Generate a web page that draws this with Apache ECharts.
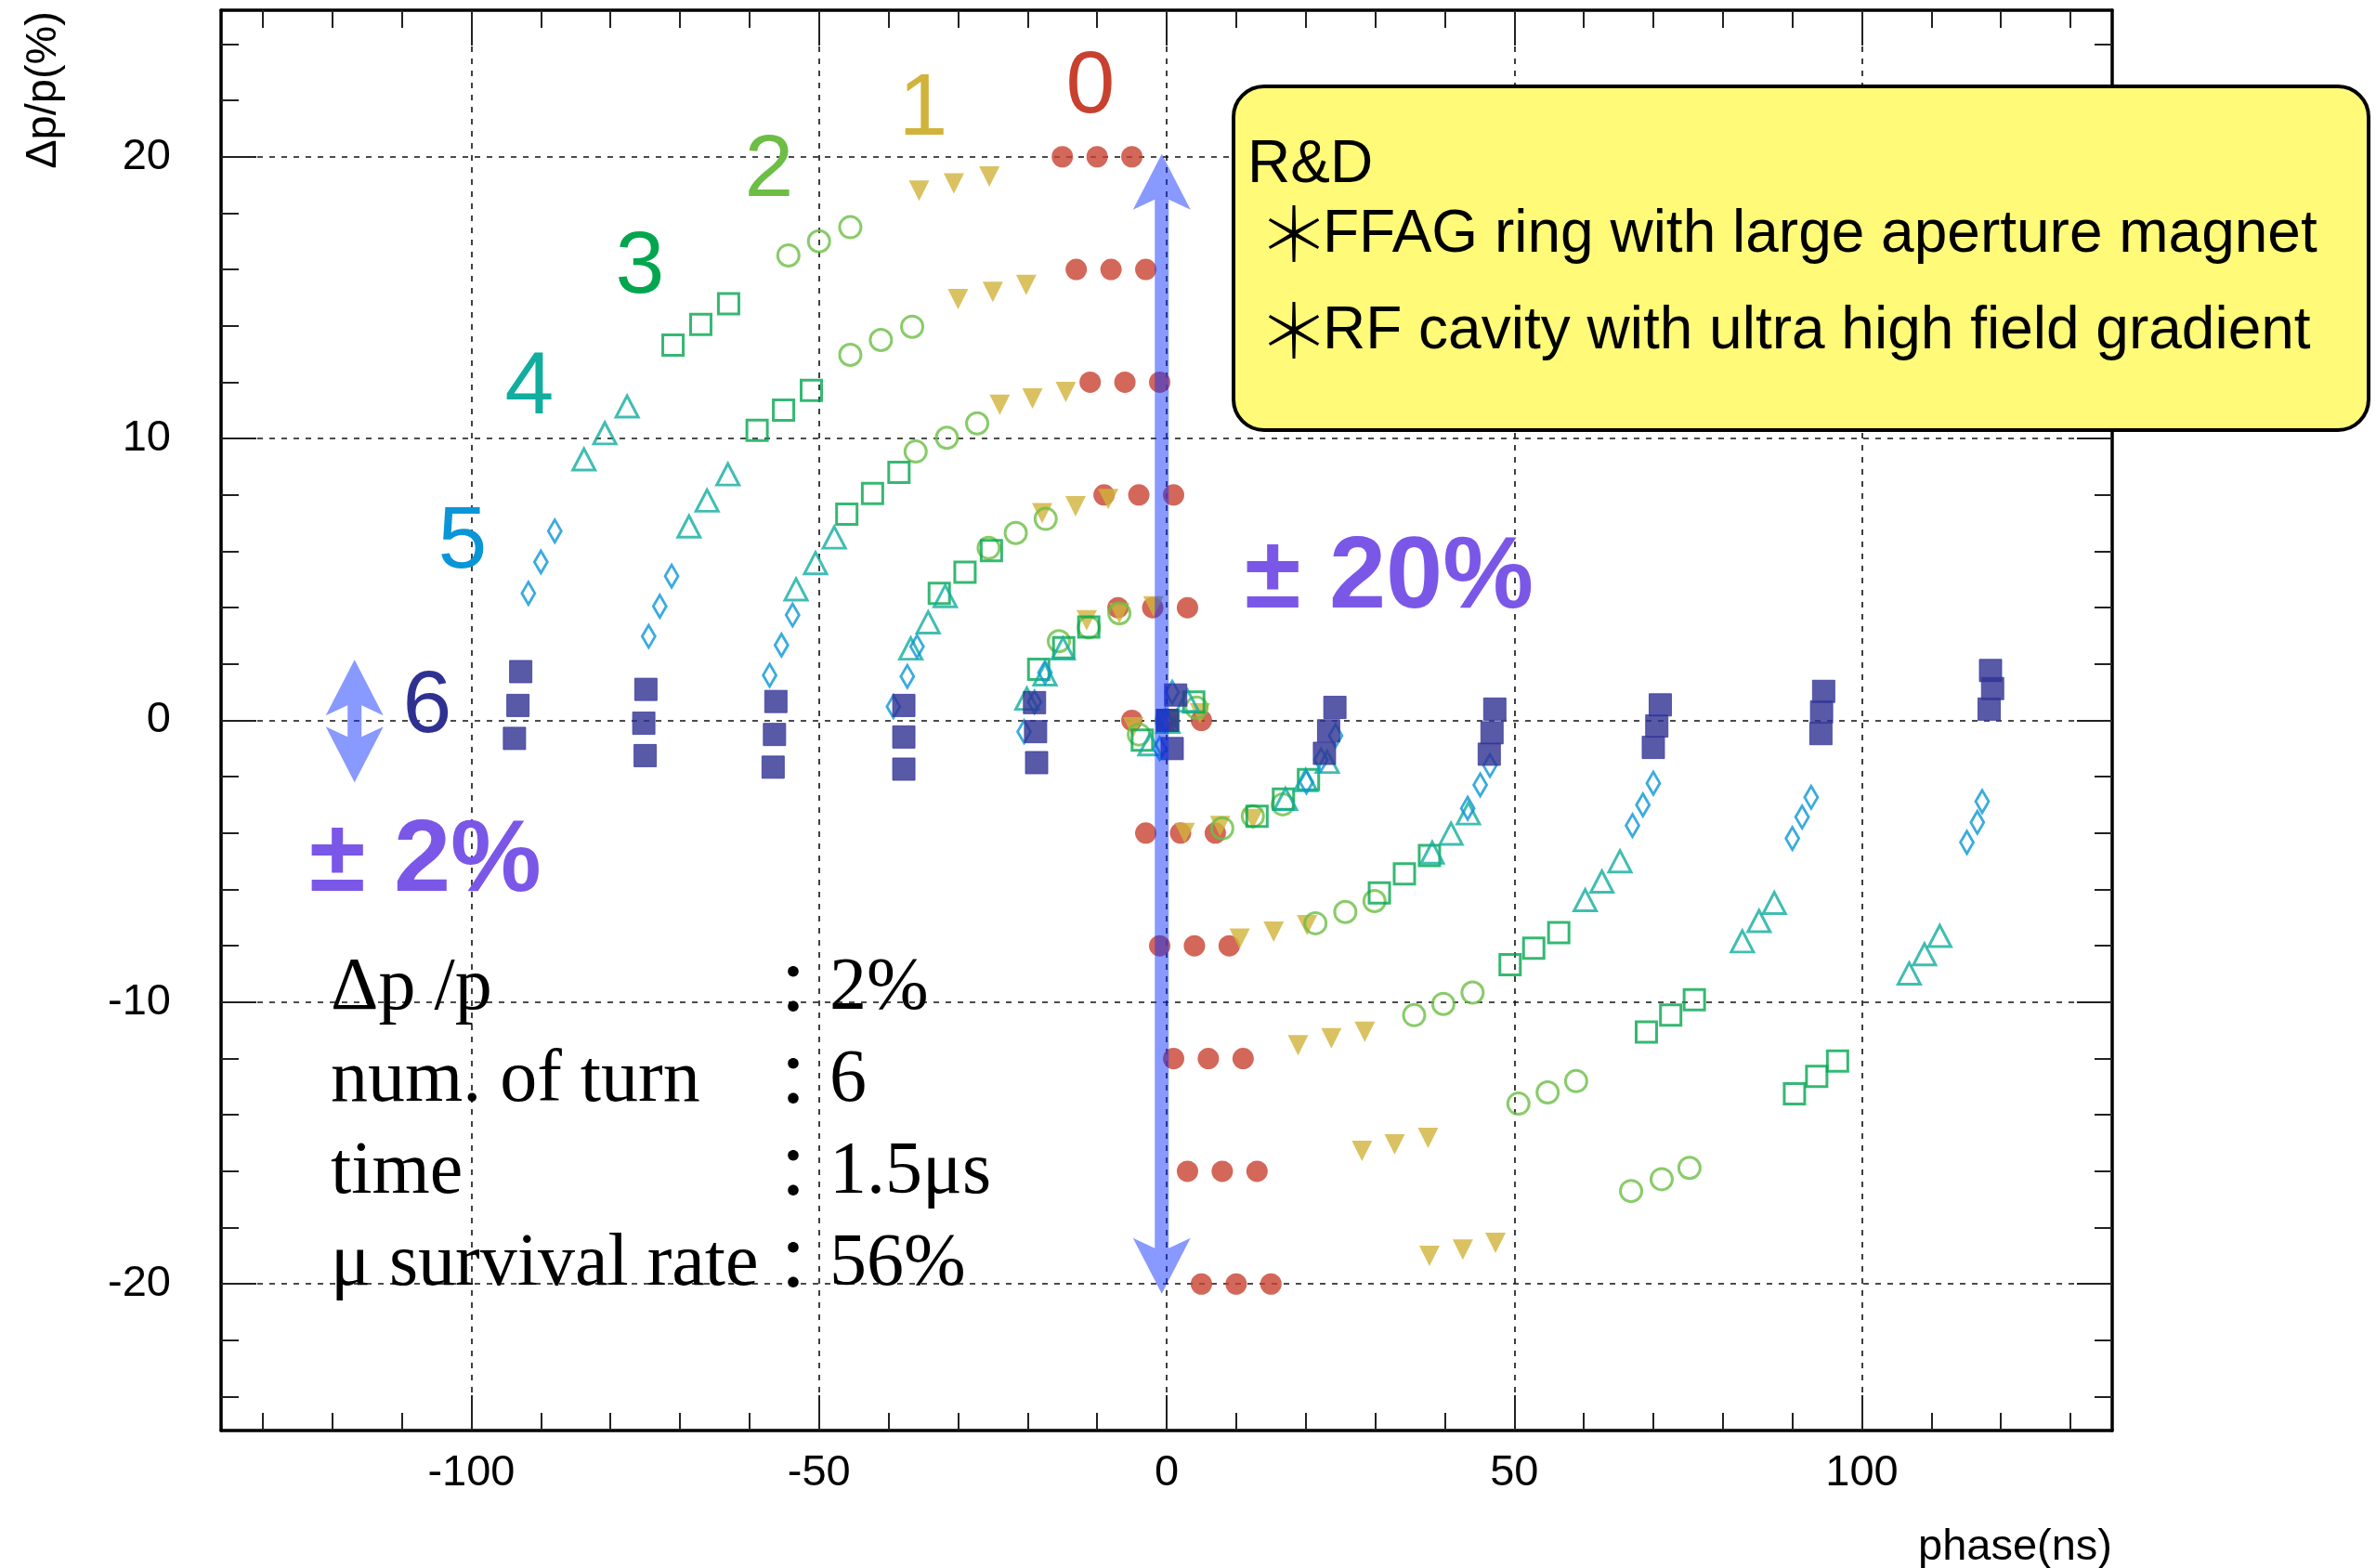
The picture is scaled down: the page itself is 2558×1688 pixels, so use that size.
<!DOCTYPE html>
<html>
<head>
<meta charset="utf-8">
<script src="https://cdn.jsdelivr.net/npm/echarts@6/dist/echarts.min.js"></script>
<style>
  html, body { margin: 0; padding: 0; background: #fff; }
  #chart { width: 2558px; height: 1688px; }
</style>
</head>
<body>
<div id="chart"></div>
<script>
// Longitudinal phase space (phase vs Δp/p) of a muon bunch, turn by turn.
// Each turn: 11 momentum rows x 3 phase points, as [phase(ns), Δp/p(%)].
const turn0 = [
  [-15, 20], [-10, 20], [-5, 20],
  [-13, 16], [-8, 16], [-3, 16],
  [-11, 12], [-6, 12], [-1, 12],
  [-9, 8], [-4, 8], [1, 8],
  [-7, 4], [-2, 4], [3, 4],
  [-5, 0], [0, 0], [5, 0],
  [-3, -4], [2, -4], [7, -4],
  [-1, -8], [4, -8], [9, -8],
  [1, -12], [6, -12], [11, -12],
  [3, -16], [8, -16], [13, -16],
  [5, -20], [10, -20], [15, -20]
];
const turn1 = [
  [-35.6, 18.8], [-30.6, 19.05], [-25.5, 19.3],
  [-30.0, 14.95], [-25.0, 15.2], [-20.2, 15.45],
  [-24.0, 11.2], [-19.3, 11.42], [-14.5, 11.65],
  [-17.9, 7.35], [-13.1, 7.6], [-8.4, 7.85],
  [-11.5, 3.55], [-6.8, 3.8], [-1.9, 4.05],
  [-4.8, -0.25], [0, 0], [4.8, 0.25],
  [2.6, -4.0], [7.7, -3.75], [12.4, -3.5],
  [10.5, -7.75], [15.4, -7.5], [20.2, -7.27],
  [18.9, -11.53], [23.7, -11.28], [28.5, -11.05],
  [28.1, -15.28], [32.8, -15.05], [37.6, -14.82],
  [37.8, -19.0], [42.6, -18.78], [47.3, -18.54]
];
const turn2 = [
  [-54.4, 16.5], [-50.0, 17.0], [-45.5, 17.5],
  [-45.5, 12.97], [-41.1, 13.5], [-36.6, 13.97],
  [-36.1, 9.54], [-31.6, 10.03], [-27.25, 10.54],
  [-25.6, 6.12], [-21.7, 6.65], [-17.4, 7.15],
  [-15.5, 2.81], [-11.2, 3.3], [-6.8, 3.8],
  [-4.0, -0.5], [0, 0], [4.3, 0.45],
  [8.0, -3.83], [12.4, -3.4], [16.7, -2.98],
  [21.4, -7.2], [25.7, -6.8], [29.9, -6.41],
  [35.6, -10.46], [39.8, -10.06], [44.0, -9.66],
  [50.6, -13.6], [54.8, -13.2], [58.9, -12.8],
  [66.8, -16.7], [71.2, -16.28], [75.2, -15.88]
];
const turn3 = [
  [-71.0, 13.32], [-67.0, 14.05], [-63.0, 14.78],
  [-58.9, 10.29], [-55.1, 11.01], [-51.1, 11.71],
  [-46.0, 7.32], [-42.3, 8.05], [-38.5, 8.8],
  [-32.7, 4.51], [-29.0, 5.26], [-25.2, 6.02],
  [-18.4, 1.81], [-14.8, 2.58], [-11.2, 3.31],
  [-3.5, -0.7], [0.2, 0], [3.9, 0.65],
  [13.0, -3.4], [16.8, -2.79], [20.4, -2.1],
  [30.6, -6.12], [34.2, -5.45], [37.8, -4.8],
  [49.4, -8.67], [52.8, -8.08], [56.4, -7.53],
  [69.0, -11.06], [72.5, -10.46], [75.9, -9.91],
  [90.3, -13.25], [93.5, -12.63], [96.5, -12.09]
];
const turn4 = [
  [-83.8, 9.26], [-80.8, 10.19], [-77.6, 11.14],
  [-68.7, 6.88], [-66.1, 7.8], [-63.1, 8.73],
  [-53.3, 4.65], [-50.5, 5.58], [-47.8, 6.49],
  [-36.8, 2.55], [-34.3, 3.48], [-31.85, 4.41],
  [-20.1, 0.77], [-17.5, 1.63], [-14.9, 2.55],
  [-2.4, -0.85], [0.2, -0.05], [3.0, 0.7],
  [17.1, -2.79], [20.0, -2.12], [23.1, -1.47],
  [38.2, -4.69], [40.9, -4.02], [43.4, -3.3],
  [60.2, -6.38], [62.6, -5.72], [65.2, -5.0],
  [82.8, -7.84], [85.2, -7.12], [87.4, -6.48],
  [106.8, -8.98], [109.0, -8.3], [111.2, -7.65]
];
const turn5 = [
  [-91.8, 4.51], [-90.0, 5.62], [-88.0, 6.72],
  [-74.5, 2.98], [-72.9, 4.05], [-71.2, 5.12],
  [-57.1, 1.6], [-55.4, 2.67], [-53.8, 3.74],
  [-39.3, 0.49], [-37.3, 1.56], [-35.9, 2.62],
  [-20.5, -0.4], [-19.0, 0.65], [-17.5, 1.7],
  [-1.0, -1.0], [-0.2, 0], [0.8, 1.0],
  [20.1, -2.19], [22.2, -1.4], [24.3, -0.54],
  [43.3, -3.12], [45.1, -2.29], [46.5, -1.6],
  [67.0, -3.73], [68.5, -3.0], [70.0, -2.23],
  [90.0, -4.19], [91.4, -3.43], [92.7, -2.73],
  [115.1, -4.33], [116.6, -3.62], [117.3, -2.88]
];
const turn6 = [
  [-92.9, 1.73], [-93.3, 0.53], [-93.8, -0.64],
  [-74.9, 1.1], [-75.2, -0.1], [-75.0, -1.25],
  [-56.2, 0.67], [-56.4, -0.5], [-56.6, -1.66],
  [-37.8, 0.53], [-37.8, -0.59], [-37.8, -1.73],
  [-19.0, 0.63], [-18.85, -0.4], [-18.7, -1.5],
  [1.3, 0.9], [0.1, 0.0], [0.8, -1.0],
  [24.2, 0.46], [23.3, -0.37], [22.7, -1.17],
  [47.2, 0.4], [46.8, -0.44], [46.4, -1.2],
  [71.0, 0.55], [70.5, -0.2], [70.0, -0.96],
  [94.5, 1.03], [94.2, 0.3], [94.1, -0.47],
  [118.5, 1.77], [118.8, 1.13], [118.3, 0.4]
];

// axis ticks
const xMajorTicks = [-100, -50, 0, 50, 100];
const xMinorTicks = [-130, -120, -110, -90, -80, -70, -60, -40, -30, -20, -10,
                     10, 20, 30, 40, 60, 70, 80, 90, 110, 120, 130];
const yMajorTicks = [-20, -10, 0, 10, 20];
const yMinorTicks = [-24, -22, -18, -16, -14, -12, -8, -6, -4, -2,
                     2, 4, 6, 8, 12, 14, 16, 18, 22, 24];

// momentum acceptance arrows: [phase, upper tip, lower tip]
const arrows = [
  [-0.7, 20.1, -20.35],
  [-116.8, 2.15, -2.2]
];

// summary text
const infoLabels = ['Δp /p', 'num. of turn', 'time', 'μ survival rate'];
const infoValues = ['2%', '6', '1.5μs', '56%'];
const rdTitle = 'R&D';
const rdItems = ['FFAG ring with large aperture magnet', 'RF cavity with ultra high field gradient'];

const SANS = '"Liberation Sans", Arial, Helvetica, sans-serif';
const SERIF = '"Liberation Serif", "Times New Roman", serif';
const CJK = '"Noto Sans CJK JP", sans-serif';
const X_RANGE = [-136, 136];
const Y_RANGE = [-25.2, 25.2];
const COLORS = ['#c8412f', '#d1b33b', '#6cbe45', '#03a64f', '#11ad9f', '#0a96d6', '#2e3192'];
const PURPLE = '#7b57e8';

function makeAxis(kind, position, ticks, tickLen, withLabels, withLine, withGrid) {
  const range = kind === 'x' ? X_RANGE : Y_RANGE;
  return {
    type: 'value',
    position: position,
    min: range[0],
    max: range[1],
    gridIndex: 0,
    axisLine: { show: withLine, onZero: false, lineStyle: { color: '#000', width: 3.5 } },
    axisTick: { show: true, inside: true, length: tickLen, customValues: ticks,
                lineStyle: { color: '#222', width: 2 } },
    axisLabel: withLabels
      ? { show: true, customValues: ticks, fontFamily: SANS, fontSize: 47, color: '#000',
          margin: kind === 'x' ? 23 : 54 }
      : { show: false },
    splitLine: withGrid
      ? { show: true, lineStyle: { color: '#111', width: 1.6, type: [6, 7] } }
      : { show: false },
    minorTick: { show: false },
    minorSplitLine: { show: false }
  };
}

function scatter(name, data, symbol, size, color, hollow, extra) {
  return Object.assign({
    name: name,
    type: 'scatter',
    data: data,
    symbol: symbol,
    symbolSize: size,
    xAxisIndex: 0,
    yAxisIndex: 0,
    itemStyle: hollow
      ? { color: 'rgba(0,0,0,0)', borderColor: color, borderWidth: 3 }
      : { color: color },
    emphasis: { disabled: true },
    silent: true
  }, extra || {});
}

function arrowItem(params, api) {
  const top = api.coord([api.value(0), api.value(1)]);
  const bot = api.coord([api.value(0), api.value(2)]);
  const cx = top[0], yt = top[1], yb = bot[1];
  const hw = 31, sw = 7.5, hl = 60, hj = 49;
  return {
    type: 'polygon',
    shape: {
      points: [
        [cx, yt], [cx + hw, yt + hl], [cx + sw, yt + hj],
        [cx + sw, yb - hj], [cx + hw, yb - hl], [cx, yb],
        [cx - hw, yb - hl], [cx - sw, yb - hj],
        [cx - sw, yt + hj], [cx - hw, yt + hl]
      ]
    },
    style: { fill: 'rgba(12,47,255,0.49)' }
  };
}

function text(x, y, str, font, size, color, opts) {
  return Object.assign({
    type: 'text', x: x, y: y, z: 100,
    style: Object.assign({
      text: str, fontFamily: font, fontSize: size, fill: color,
      align: 'left', verticalAlign: 'middle'
    }, (opts && opts.style) || {})
  }, (opts && opts.el) || {});
}

const turnLabelPos = [[1174, 95], [994, 119], [828, 185], [689, 289], [570, 419], [498, 585], [460, 762]];
const graphics = [];
turnLabelPos.forEach(function (p, i) {
  graphics.push(text(p[0], p[1], String(i), SANS, 95, COLORS[i], { style: { align: 'center' } }));
});

// R&D box
graphics.push({
  type: 'rect', z: 90,
  shape: { x: 1328, y: 93, width: 1222, height: 370, r: 33 },
  style: { fill: '#fffa78', stroke: '#000', lineWidth: 4 }
});
graphics.push(text(1343, 178, rdTitle, SANS, 64, '#000'));
[253, 357].forEach(function (y, i) {
  graphics.push(text(1393, y - 2, '＊', CJK, 80, '#000', { style: { align: 'center', fontWeight: 300 } }));
  graphics.push(text(1424, y, rdItems[i], SANS, 64, '#000'));
});

// big purple annotations
graphics.push(text(1340, 624, '± 20%', SANS, 110, PURPLE, { style: { fontWeight: 'bold' } }));
graphics.push(text(333, 929, '± 2%', SANS, 110, PURPLE, { style: { fontWeight: 'bold' } }));

// summary block
[1086, 1185, 1284, 1383].forEach(function (base, i) {
  graphics.push(text(356, base - 21, infoLabels[i], SERIF, 80, '#000'));
  graphics.push(text(854, base - 22, '：', CJK, 76, '#000', { style: { align: 'center' } }));
  graphics.push(text(893, base - 21, infoValues[i], SERIF, 80, '#000'));
});

// axis titles
graphics.push(text(2274, 1666, 'phase(ns)', SANS, 47, '#000', { style: { align: 'right' } }));
graphics.push(text(47, 12, 'Δp/p(%)', SANS, 47, '#000',
  { style: { align: 'right' }, el: { rotation: Math.PI / 2 } }));

const chart = echarts.init(document.getElementById('chart'), null, { renderer: 'canvas' });
chart.setOption({
  backgroundColor: '#fff',
  animation: false,
  grid: { left: 238, top: 11, width: 2036, height: 1529, containLabel: false },
  xAxis: [
    makeAxis('x', 'bottom', xMajorTicks, 38, true, true, true),
    makeAxis('x', 'bottom', xMinorTicks, 19, false, false, false),
    makeAxis('x', 'top', xMajorTicks, 38, false, true, false),
    makeAxis('x', 'top', xMinorTicks, 19, false, false, false)
  ],
  yAxis: [
    makeAxis('y', 'left', yMajorTicks, 38, true, true, true),
    makeAxis('y', 'left', yMinorTicks, 19, false, false, false),
    makeAxis('y', 'right', yMajorTicks, 38, false, true, false),
    makeAxis('y', 'right', yMinorTicks, 19, false, false, false)
  ],
  series: [
    scatter('turn 0', turn0, 'circle', 23, COLORS[0], false),
    scatter('turn 1', turn1, 'triangle', [22, 22], COLORS[1], false, { symbolRotate: 180 }),
    scatter('turn 2', turn2, 'circle', 23, COLORS[2], true),
    scatter('turn 3', turn3, 'rect', 22, COLORS[3], true),
    scatter('turn 4', turn4, 'triangle', [24, 23], COLORS[4], true),
    scatter('turn 5', turn5, 'diamond', [14, 24], COLORS[5], true),
    scatter('turn 6', turn6, 'rect', 24, COLORS[6], false,
      { itemStyle: { color: COLORS[6], borderColor: '#3a3d9e', borderWidth: 1 } }),
    {
      name: 'acceptance',
      type: 'custom',
      xAxisIndex: 0,
      yAxisIndex: 0,
      data: arrows,
      encode: { x: 0, y: [1, 2] },
      renderItem: arrowItem,
      z: 10,
      silent: true
    }
  ],
  graphic: graphics
});
</script>
</body>
</html>
